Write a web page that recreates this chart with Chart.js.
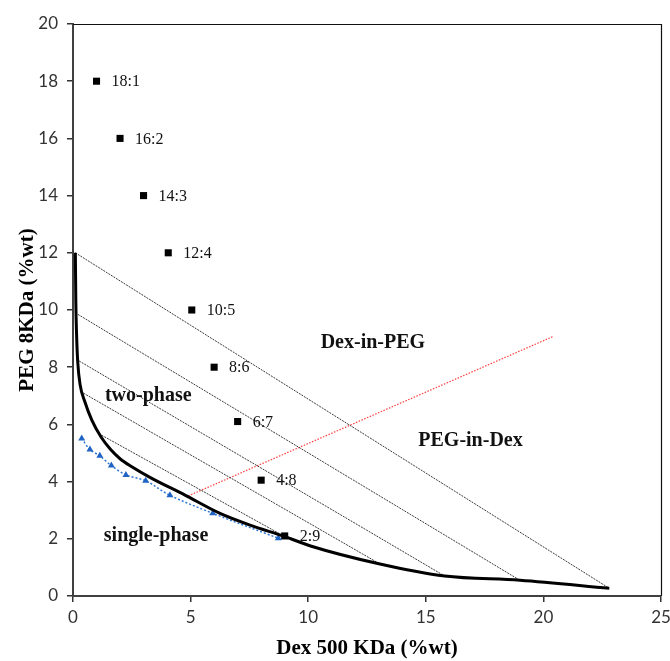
<!DOCTYPE html>
<html>
<head>
<meta charset="utf-8">
<script src="https://cdn.jsdelivr.net/npm/chart.js@4.4.1/dist/chart.umd.min.js"></script>
<style>
  html, body { margin: 0; padding: 0; background: #fff; }
  #wrap { width: 670px; height: 661px; position: relative; }
</style>
</head>
<body>
<div id="wrap"><canvas id="c" width="670" height="661"></canvas></div>
<script>
// ---- data ----
const squareX = [1, 2, 3, 4.05, 5.05, 6, 7, 8, 9];
const squareY = [18, 16, 14, 12, 10, 8, 6.1, 4.05, 2.1];
const squareLabels = ['18:1', '16:2', '14:3', '12:4', '10:5', '8:6', '6:7', '4:8', '2:9'];

const binodalX = [0.1, 0.12, 0.15, 0.2, 0.3, 0.5, 0.8, 1.2, 1.6, 2.0, 2.5, 3.27, 4.76, 6.25, 7.53, 9.0, 10.1, 13.05, 15.8, 19.0, 22.8];
const binodalY = [12.0, 10.3, 9.2, 8.2, 7.4, 6.8, 6.15, 5.55, 5.12, 4.8, 4.52, 4.15, 3.53, 2.89, 2.48, 2.08, 1.75, 1.12, 0.7, 0.55, 0.27];

const blueX = [0.37, 0.72, 1.14, 1.63, 2.25, 3.09, 4.12, 5.94, 8.73];
const blueY = [5.51, 5.12, 4.9, 4.56, 4.23, 4.03, 3.52, 2.89, 2.02];

const tieStartX = [0.1, 0.1, 0.15, 0.45, 1.22];
const tieStartY = [12.0, 9.9, 8.27, 7.09, 5.62];
const tieEndX = [22.8, 19.0, 15.8, 13.05, 9.0];
const tieEndY = [0.27, 0.55, 0.7, 1.12, 2.08];

const redX = [4.9, 20.4];
const redY = [3.5, 9.07];

const regionLabels = ['Dex-in-PEG', 'PEG-in-Dex', 'two-phase', 'single-phase'];
const regionX = [12.75, 16.9, 3.2, 3.53];
const regionY = [8.85, 5.43, 7.0, 2.1];

const xTitle = 'Dex 500 KDa (%wt)';
const yTitle = 'PEG 8KDa (%wt)';

// ---- build datasets ----
const pts = (xs, ys) => xs.map((v, i) => ({ x: v, y: ys[i] }));

const datasets = [];
datasets.push({
  label: 'ratios', data: pts(squareX, squareY), showLine: false,
  pointStyle: 'rect', pointRadius: 5, backgroundColor: '#000', borderColor: '#000', borderWidth: 0
});
datasets.push({
  label: 'binodal', data: pts(binodalX, binodalY), showLine: true,
  borderColor: '#000', borderWidth: 3, pointRadius: 0, cubicInterpolationMode: 'monotone'
});
datasets.push({
  label: 'blue', data: pts(blueX, blueY), showLine: true,
  borderColor: '#2f78d4', borderWidth: 1.5, borderDash: [2, 2], tension: 0.3,
  pointStyle: 'triangle', pointRadius: 4, pointBackgroundColor: '#1f63c4', pointBorderColor: '#1f63c4', pointBorderWidth: 0
});
for (let i = 0; i < tieStartX.length; i++) {
  datasets.push({
    label: 'tie' + i, data: pts([tieStartX[i], tieEndX[i]], [tieStartY[i], tieEndY[i]]), showLine: true,
    borderColor: '#3a3a3a', borderWidth: 1, borderDash: [2, 1], pointRadius: 0
  });
}
datasets.push({
  label: 'red', data: pts(redX, redY), showLine: true,
  borderColor: 'rgba(255,40,40,0.9)', borderWidth: 1.2, borderDash: [1.5, 1.5], pointRadius: 0
});

const labelPlugin = {
  id: 'labelPlugin',
  afterDatasetsDraw(chart) {
    const { ctx, chartArea, scales: { x, y } } = chart;
    ctx.save();
    // frame top/right
    ctx.strokeStyle = '#111';
    ctx.lineWidth = 1.2;
    ctx.beginPath();
    ctx.moveTo(chartArea.left, chartArea.top + 0.5);
    ctx.lineTo(chartArea.right + 0.5, chartArea.top + 0.5);
    ctx.lineTo(chartArea.right + 0.5, chartArea.bottom);
    ctx.stroke();
    // point labels
    ctx.fillStyle = '#111';
    ctx.font = '16px "Liberation Serif"';
    ctx.textBaseline = 'middle';
    ctx.textAlign = 'left';
    const meta = chart.getDatasetMeta(0);
    meta.data.forEach((p, i) => ctx.fillText(squareLabels[i], p.x + 15, p.y + 1));
    // region labels
    ctx.font = 'bold 20px "Liberation Serif"';
    ctx.textAlign = 'center';
    regionLabels.forEach((t, i) => ctx.fillText(t, x.getPixelForValue(regionX[i]), y.getPixelForValue(regionY[i])));
    ctx.restore();
  }
};

new Chart(document.getElementById('c'), {
  type: 'scatter',
  data: { datasets },
  plugins: [labelPlugin],
  options: {
    responsive: false,
    animation: false,
    layout: { padding: { left: 0, right: 9, top: 24, bottom: 0 } },
    plugins: { legend: { display: false }, tooltip: { enabled: false } },
    scales: {
      x: {
        type: 'linear', min: 0, max: 25,
        ticks: { stepSize: 5, padding: 5, color: '#333', font: { family: 'Lato', size: 17 } },
        grid: { drawOnChartArea: false, drawTicks: true, tickLength: 6, color: '#333', lineWidth: 1.5 },
        border: { display: true, width: 2, color: '#404040' },
        title: { display: true, text: xTitle, color: '#000', padding: { top: 0, bottom: 0 },
                 font: { family: 'Liberation Serif', size: 21, weight: 'bold' } },
        afterFit(s) { s.height = 65; s.paddingLeft = 0; s.paddingRight = 0; }
      },
      y: {
        type: 'linear', min: 0, max: 20,
        ticks: { stepSize: 2, padding: 9, color: '#333', font: { family: 'Lato', size: 17 } },
        grid: { drawOnChartArea: false, drawTicks: true, tickLength: 6, color: '#333', lineWidth: 1.5 },
        border: { display: true, width: 2, color: '#404040' },
        title: { display: true, text: yTitle, color: '#000', padding: { top: 15, bottom: 0 },
                 font: { family: 'Liberation Serif', size: 21, weight: 'bold' } },
        afterFit(s) { s.width = 73; s.paddingTop = 0; s.paddingBottom = 0; }
      }
    }
  }
});
</script>
</body>
</html>
